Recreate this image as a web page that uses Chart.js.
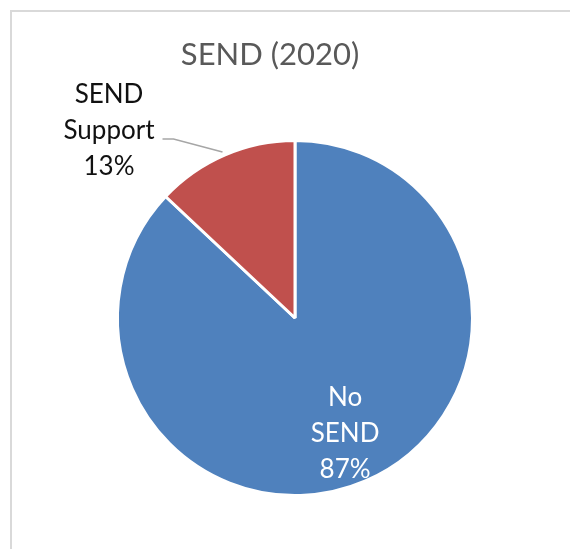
<!DOCTYPE html>
<html>
<head>
<meta charset="utf-8">
<script src="https://cdn.jsdelivr.net/npm/chart.js@4/dist/chart.umd.min.js"></script>
<style>
  html, body { margin: 0; padding: 0; background: #fff; overflow: hidden; }
  #frame {
    position: absolute; left: 10px; top: 10px; width: 700px; height: 700px;
    border-left: 2px solid #d9d9d9; border-top: 2px solid #d9d9d9;
  }
  #wrap { position: absolute; left: 0; top: 0; width: 570px; height: 549px; }
</style>
</head>
<body>
<div id="frame"></div>
<div id="wrap"><canvas id="chartSend"></canvas></div>
<script>
const chartTitle = "SEND (2020)";
const categories = [["No", "SEND"], ["SEND", "Support"]];
const shares = [87, 13];
const sliceColors = ["#4f81bd", "#c0504d"];

// titulo y etiquetas de datos dibujados a mano
const sendLabels = {
  id: "sendLabels",
  afterDraw(chart) {
    const ctx = chart.ctx;
    ctx.save();
    ctx.textAlign = "center";
    ctx.textBaseline = "middle";

    ctx.fillStyle = "#595959";
    ctx.font = "31px Lato";
    ctx.fillText(chartTitle, 270, 55);

    ctx.font = "26px Lato";
    const arcs = chart.getDatasetMeta(0).data;
    arcs.forEach((arc, i) => {
      const p = arc.getProps(["x", "y", "startAngle", "endAngle", "outerRadius"], true);
      const mid = (p.startAngle + p.endAngle) / 2;
      const lines = [...categories[i], shares[i] + "%"];
      let cx, cy;
      if (i === 0) {
        cx = p.x + Math.cos(mid) * p.outerRadius * 0.71;
        cy = p.y + Math.sin(mid) * p.outerRadius * 0.71;
        ctx.fillStyle = "#ffffff";
      } else {
        // linea guia hacia la etiqueta exterior
        const ex = p.x + Math.cos(mid) * p.outerRadius;
        const ey = p.y + Math.sin(mid) * p.outerRadius;
        ctx.strokeStyle = "#a6a6a6";
        ctx.lineWidth = 1.5;
        ctx.beginPath();
        ctx.moveTo(ex - 2, ey - 3);
        ctx.lineTo(ex - 51, 139);
        ctx.lineTo(ex - 62, 139);
        ctx.stroke();
        cx = 109;
        cy = 131;
        ctx.fillStyle = "#111111";
      }
      const gap = 36;
      lines.forEach((t, k) => ctx.fillText(t, cx, cy + (k - 1) * gap));
    });
    ctx.restore();
  }
};

new Chart(document.getElementById("chartSend"), {
  type: "pie",
  data: {
    labels: categories.map(c => c.join(" ")),
    datasets: [{
      data: shares,
      backgroundColor: sliceColors,
      borderColor: "#ffffff",
      borderWidth: 3
    }]
  },
  options: {
    responsive: true,
    maintainAspectRatio: false,
    animation: false,
    layout: { padding: { top: 139, bottom: 52, left: 116, right: 96 } },
    plugins: {
      legend: { display: false },
      title: { display: false },
      tooltip: { enabled: false }
    }
  },
  plugins: [sendLabels]
});
</script>
</body>
</html>
